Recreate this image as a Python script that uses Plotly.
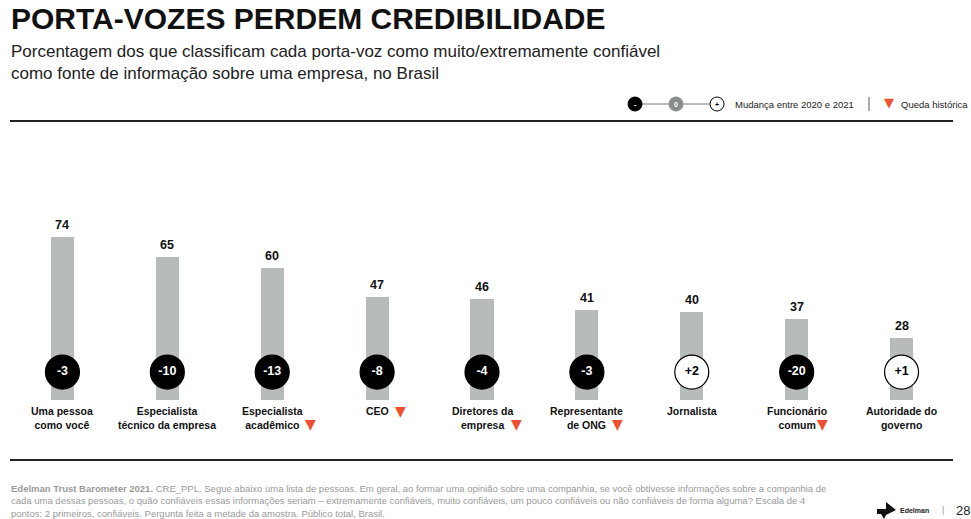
import plotly.graph_objects as go

# ---------------- data ----------------
categories = ["Uma pessoa<br>como você", "Especialista<br>técnico da empresa", "Especialista<br>acadêmico",
              "CEO", "Diretores da<br>empresa", "Representante<br>de ONG", "Jornalista",
              "Funcionário<br>comum", "Autoridade do<br>governo"]
values = [74, 65, 60, 47, 46, 41, 40, 37, 28]
changes = [-3, -10, -13, -8, -4, -3, 2, -20, 1]
record_drop = [False, False, True, True, True, True, False, True, False]

# ---------------- layout constants ----------------
W, H = 971, 519
ML, MR, MT, MB = 10, 17, 180, 119
PW, PH = W - ML - MR, H - MT - MB
YMAX = 100
FONT = "Liberation Sans, Arial, sans-serif"
RED = "#F0502F"
BAR = "#B7BBBA"
CIRCLE_Y = 12.7  # data units, where change circles sit

def px(x):
    return (x - ML) / PW

def py(y):
    return (H - MB - y) / PH

n = len(categories)
xs = list(range(n))

fig = go.Figure()
fig.add_trace(go.Bar(x=xs, y=values, marker=dict(color=BAR, line=dict(width=0)),
                     width=0.22, hoverinfo="skip"))

fig.add_trace(go.Scatter(
    x=xs, y=[CIRCLE_Y] * n, mode="markers+text",
    marker=dict(size=34, color=["black" if c < 0 else "white" for c in changes],
                line=dict(color="black", width=1.2)),
    text=["<b>%+d</b>" % c for c in changes], textposition="middle center",
    textfont=dict(family=FONT, size=12.5, color=["white" if c < 0 else "black" for c in changes]),
    cliponaxis=False, hoverinfo="skip"))

annotations = []
# value labels
for i, v in enumerate(values):
    annotations.append(dict(x=i, y=v, xref="x", yref="y", text="<b>%d</b>" % v, showarrow=False,
                            yanchor="bottom", yshift=3, font=dict(family=FONT, size=12.5, color="#111")))
# category labels
tri_offsets = {2: (38, -24), 3: (23, -11), 4: (34, -24), 5: (31, -24), 7: (26, -24)}
for i, c in enumerate(categories):
    annotations.append(dict(x=i, y=0, xref="x", yref="y", text="<b>%s</b>" % c, showarrow=False,
                            yanchor="top", yshift=-3, align="center",
                            font=dict(family=FONT, size=10.5, color="#111")))
    if record_drop[i]:
        dx, dy = tri_offsets[i]
        annotations.append(dict(x=i, y=0, xref="x", yref="y", text="▼", showarrow=False,
                                xshift=dx, yshift=dy, font=dict(family="DejaVu Sans", size=14, color=RED)))

# titles
annotations.append(dict(x=px(9), y=py(19), xref="paper", yref="paper", xanchor="left", yanchor="middle",
                        text="<b>PORTA-VOZES PERDEM CREDIBILIDADE</b>", showarrow=False,
                        font=dict(family=FONT, size=30, color="#111")))
annotations.append(dict(x=px(9), y=py(62), xref="paper", yref="paper", xanchor="left", yanchor="middle",
                        text="Porcentagem dos que classificam cada porta-voz como muito/extremamente confiável<br>"
                             "como fonte de informação sobre uma empresa, no Brasil",
                        align="left", showarrow=False, font=dict(family=FONT, size=17, color="#222")))

# legend
annotations.append(dict(x=px(733), y=py(104), xref="paper", yref="paper", xanchor="left", yanchor="middle",
                        text="Mudança entre 2020 e 2021", showarrow=False,
                        font=dict(family=FONT, size=9.5, color="#222")))
annotations.append(dict(x=px(889), y=py(103), xref="paper", yref="paper", xanchor="center", yanchor="middle",
                        text="▼", showarrow=False, font=dict(family="DejaVu Sans", size=13, color=RED)))
annotations.append(dict(x=px(899), y=py(104), xref="paper", yref="paper", xanchor="left", yanchor="middle",
                        text="Queda histórica", showarrow=False, font=dict(family=FONT, size=9.5, color="#222")))
for cx, txt, col in [(635, "-", "white"), (676, "0", "white"), (717, "+", "black")]:
    annotations.append(dict(x=px(cx), y=py(104), xref="paper", yref="paper", xanchor="center",
                            yanchor="middle", text="<b>%s</b>" % txt, showarrow=False,
                            font=dict(family=FONT, size=7, color=col)))

# footer
annotations.append(dict(
    x=px(9), y=py(481), xref="paper", yref="paper", xanchor="left", yanchor="top", align="left",
    showarrow=False, font=dict(family=FONT, size=9.5, color="#9a9a9a"),
    text="<b>Edelman Trust Barometer 2021.</b> CRE_PPL. Segue abaixo uma lista de pessoas. Em geral, ao formar uma opinião sobre uma companhia, se você obtivesse informações sobre a companhia de<br>"
         "cada uma dessas pessoas, o quão confiáveis essas informações seriam – extremamente confiáveis, muito confiáveis, um pouco confiáveis ou não confiáveis de forma alguma? Escala de 4<br>"
         "pontos; 2 primeiros, confiáveis. Pergunta feita a metade da amostra. Público total, Brasil."))
annotations.append(dict(x=px(898), y=py(510), xref="paper", yref="paper", xanchor="left", yanchor="middle",
                        text="<b>Edelman</b>", showarrow=False, font=dict(family=FONT, size=7, color="#222")))
annotations.append(dict(x=px(943), y=py(510), xref="paper", yref="paper", xanchor="center", yanchor="middle",
                        text="|", showarrow=False, font=dict(family=FONT, size=9, color="#999")))
annotations.append(dict(x=px(954), y=py(510), xref="paper", yref="paper", xanchor="left", yanchor="middle",
                        text="28", showarrow=False, font=dict(family=FONT, size=13, color="#222")))

shapes = []
# rules
shapes.append(dict(type="line", xref="paper", yref="paper", x0=px(10), x1=px(953), y0=py(121), y1=py(121),
                   line=dict(color="#222", width=2)))
shapes.append(dict(type="line", xref="paper", yref="paper", x0=px(10), x1=px(953), y0=py(460), y1=py(460),
                   line=dict(color="#222", width=2)))
# legend connectors & circles
shapes.append(dict(type="line", xref="paper", yref="paper", x0=px(635), x1=px(717), y0=py(104), y1=py(104),
                   line=dict(color="#777", width=1), layer="below"))
for cx, fill, lc in [(635, "black", "black"), (676, "#8a8d8c", "#8a8d8c"), (717, "white", "black")]:
    shapes.append(dict(type="circle", xref="paper", yref="paper", x0=px(cx - 7), x1=px(cx + 7),
                       y0=py(111), y1=py(97), fillcolor=fill, line=dict(color=lc, width=1)))
shapes.append(dict(type="line", xref="paper", yref="paper", x0=px(869), x1=px(869), y0=py(97), y1=py(111),
                   line=dict(color="#555", width=1)))
# Edelman logo mark
logo = [(877, 509), (886, 509), (886, 502), (896, 510), (886, 515), (884, 519), (881, 514), (877, 514)]
path = "M " + " L ".join("%f,%f" % (px(x), py(y)) for x, y in logo) + " Z"
shapes.append(dict(type="path", xref="paper", yref="paper", path=path, fillcolor="#111", line=dict(width=0)))

fig.update_layout(
    width=W, height=H, margin=dict(l=ML, r=MR, t=MT, b=MB, autoexpand=False),
    paper_bgcolor="white", plot_bgcolor="white", showlegend=False,
    xaxis=dict(range=[-0.5, n - 0.5], visible=False, fixedrange=True),
    yaxis=dict(range=[0, YMAX], visible=False, fixedrange=True),
    annotations=annotations, shapes=shapes, bargap=0,
)
fig.write_html("out.html")
